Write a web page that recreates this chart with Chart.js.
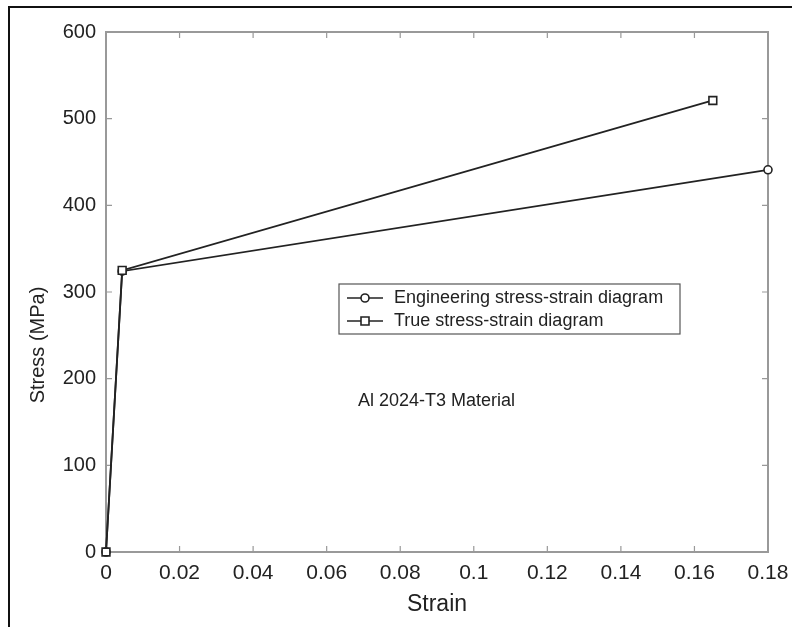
<!DOCTYPE html>
<html>
<head>
<meta charset="utf-8">
<script src="https://cdn.jsdelivr.net/npm/chart.js@4/dist/chart.umd.min.js"></script>
<style>
html,body{margin:0;padding:0;background:#fff;}
#wrap{width:792px;height:627px;position:relative;}
</style>
</head>
<body>
<div id="wrap"><canvas id="c" width="792" height="627"></canvas></div>
<script>
const engStrain = [0, 0.0044, 0.18];
const engStress = [0, 324, 441];
const trueStrain = [0, 0.0044, 0.165];
const trueStress = [0, 325, 521];
const xTicks = [0, 0.02, 0.04, 0.06, 0.08, 0.1, 0.12, 0.14, 0.16, 0.18];
const yTicks = [0, 100, 200, 300, 400, 500, 600];
const seriesNames = ['Engineering stress-strain diagram', 'True stress-strain diagram'];
const noteText = 'Al 2024-T3 Material';
const xTitle = 'Strain';
const yTitle = 'Stress (MPa)';

const FONT = '"Liberation Sans", Arial, sans-serif';
const INK = '#222';
const AXIS = '#999';

function pts(xs, ys){ return xs.map((x,i)=>({x:x, y:ys[i]})); }

const decor = {
  id: 'decor',
  beforeDraw(chart){
    const ctx = chart.ctx;
    ctx.save();
    ctx.fillStyle = '#fff';
    ctx.fillRect(0,0,chart.width,chart.height);
    ctx.strokeStyle = '#111';
    ctx.lineWidth = 2;
    ctx.beginPath();
    ctx.moveTo(9, 627); ctx.lineTo(9, 7); ctx.lineTo(792, 7);
    ctx.stroke();
    ctx.restore();
  },
  beforeDatasetsDraw(chart){
    const ctx = chart.ctx;
    const a = chart.chartArea;
    const xs = chart.scales.x, ys = chart.scales.y;
    ctx.save();
    ctx.strokeStyle = AXIS;
    ctx.lineWidth = 2;
    ctx.strokeRect(a.left, a.top, a.right - a.left, a.bottom - a.top);
    ctx.lineWidth = 1.2;
    ctx.beginPath();
    xTicks.forEach(v=>{
      const p = xs.getPixelForValue(v);
      ctx.moveTo(p, a.bottom); ctx.lineTo(p, a.bottom - 6);
      ctx.moveTo(p, a.top); ctx.lineTo(p, a.top + 6);
    });
    yTicks.forEach(v=>{
      const p = ys.getPixelForValue(v);
      ctx.moveTo(a.left, p); ctx.lineTo(a.left + 6, p);
      ctx.moveTo(a.right, p); ctx.lineTo(a.right - 6, p);
    });
    ctx.stroke();
    ctx.restore();
  },
  afterDatasetsDraw(chart){
    const ctx = chart.ctx;
    const a = chart.chartArea;
    ctx.save();
    const lx = a.left + 233, ly = a.top + 252, lw = 341, lh = 50;
    ctx.fillStyle = '#fff';
    ctx.fillRect(lx, ly, lw, lh);
    ctx.strokeStyle = '#555';
    ctx.lineWidth = 1.2;
    ctx.strokeRect(lx, ly, lw, lh);
    ctx.font = '18px ' + FONT;
    ctx.textBaseline = 'middle';
    ctx.textAlign = 'left';
    [0,1].forEach(i=>{
      const yy = ly + 14 + i*23;
      ctx.strokeStyle = INK;
      ctx.lineWidth = 1.6;
      ctx.beginPath();
      ctx.moveTo(lx + 8, yy); ctx.lineTo(lx + 44, yy);
      ctx.stroke();
      ctx.fillStyle = '#fff';
      ctx.beginPath();
      if (i === 0) { ctx.arc(lx + 26, yy, 4, 0, Math.PI*2); }
      else { ctx.rect(lx + 22, yy - 4, 8, 8); }
      ctx.fill(); ctx.stroke();
      ctx.fillStyle = INK;
      ctx.fillText(seriesNames[i], lx + 55, yy);
    });

    ctx.font = '18px ' + FONT;
    ctx.fillStyle = INK;
    ctx.fillText(noteText, a.left + 252, a.top + 369);

    ctx.save();
    ctx.translate(38, (a.top + a.bottom)/2 + 53);
    ctx.rotate(-Math.PI/2);
    ctx.textAlign = 'center';
    ctx.font = '20px ' + FONT;
    ctx.fillText(yTitle, 0, 0);
    ctx.restore();

    ctx.textAlign = 'center';
    ctx.font = '23px ' + FONT;
    ctx.fillText(xTitle, (a.left + a.right)/2, 605);
    ctx.restore();
  }
};

new Chart(document.getElementById('c'), {
  type: 'scatter',
  data: {
    datasets: [
      { label: seriesNames[0], data: pts(engStrain, engStress), showLine: true, order: 1,
        borderColor: INK, backgroundColor: '#fff', borderWidth: 1.8,
        pointStyle: 'circle', pointRadius: 4, pointBorderWidth: 1.6, pointBorderColor: INK, pointBackgroundColor: '#fff' },
      { label: seriesNames[1], data: pts(trueStrain, trueStress), showLine: true, order: 0,
        borderColor: INK, backgroundColor: '#fff', borderWidth: 1.8,
        pointStyle: 'rect', pointRadius: 5.5, pointBorderWidth: 1.6, pointBorderColor: INK, pointBackgroundColor: '#fff' }
    ]
  },
  options: {
    responsive: false,
    animation: false,
    clip: false,
    layout: { padding: { left: 0, top: 32, right: 24, bottom: 0 } },
    plugins: { legend: { display: false }, tooltip: { enabled: false } },
    scales: {
      x: {
        type: 'linear', min: 0, max: 0.18,
        afterBuildTicks: s => { s.ticks = xTicks.map(v=>({value:v})); },
        afterFit: s => { s.height = 75; s.paddingRight = 0; s.paddingLeft = 0; },
        grid: { display: false, drawTicks: false },
        border: { display: false },
        ticks: { color: INK, font: { family: FONT, size: 21 }, padding: 9,
                 callback: v => String(Math.round(v*100)/100) , maxRotation: 0, autoSkip: false }
      },
      y: {
        type: 'linear', min: 0, max: 600,
        afterBuildTicks: s => { s.ticks = yTicks.map(v=>({value:v})); },
        afterFit: s => { s.width = 106; s.paddingTop = 0; s.paddingBottom = 0; },
        grid: { display: false, drawTicks: false },
        border: { display: false },
        ticks: { color: INK, font: { family: FONT, size: 20 }, padding: 10, autoSkip: false }
      }
    }
  },
  plugins: [decor]
});
</script>
</body>
</html>
